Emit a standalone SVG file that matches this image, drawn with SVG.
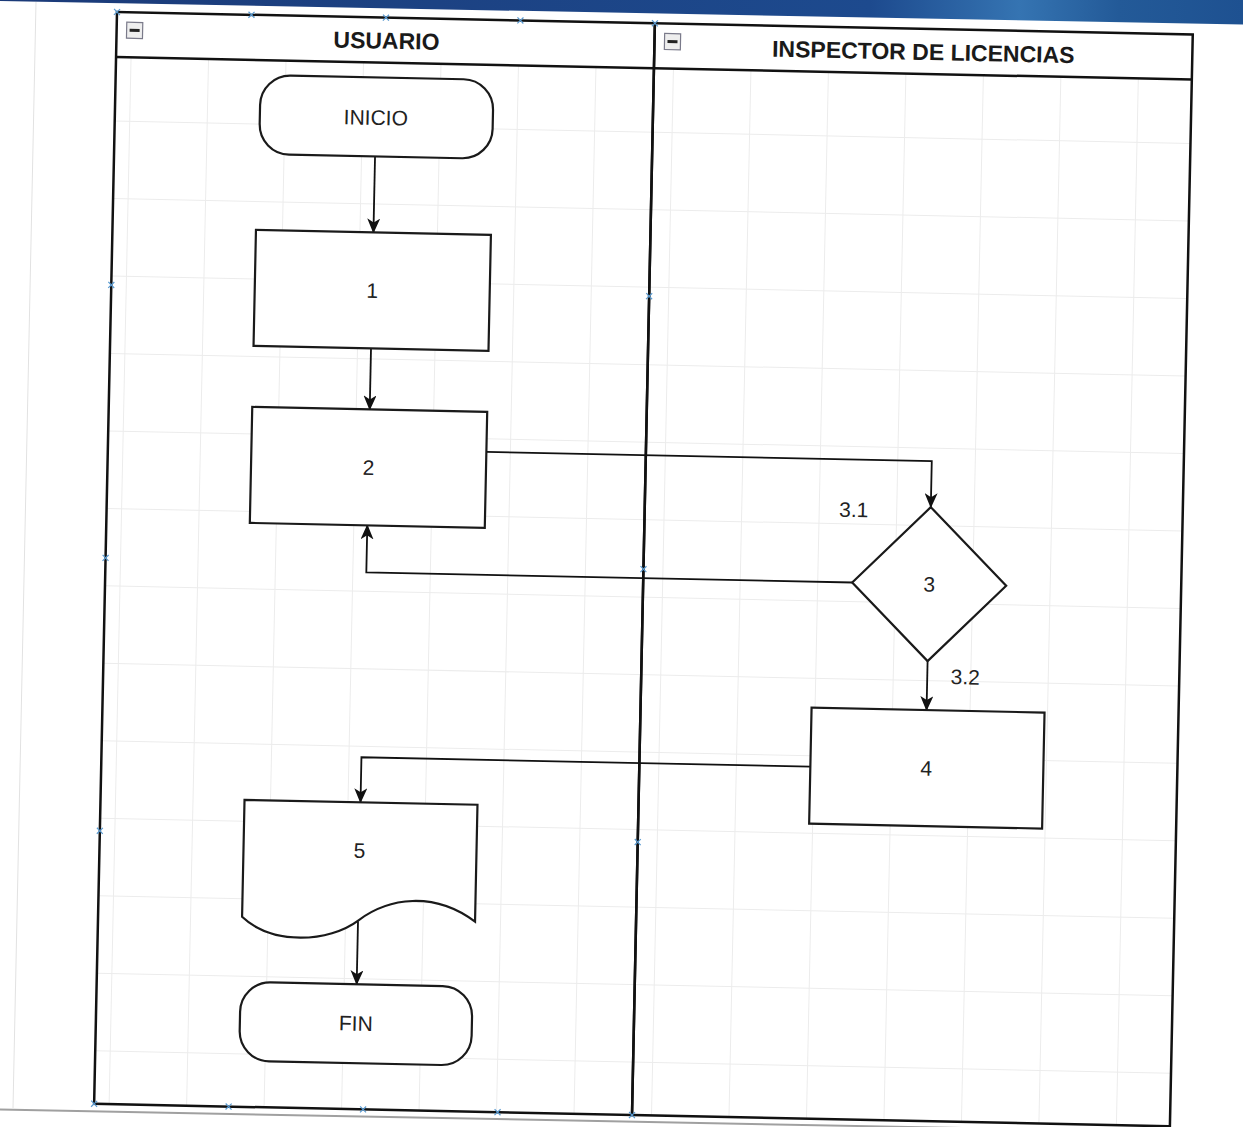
<svg xmlns="http://www.w3.org/2000/svg" width="1243" height="1127" viewBox="0 0 1243 1127">
  <defs>
    <linearGradient id="band" x1="0" y1="0" x2="1" y2="0">
      <stop offset="0" stop-color="#1b3a78"/>
      <stop offset="0.7" stop-color="#1d4a8e"/>
      <stop offset="0.82" stop-color="#3574b2"/>
      <stop offset="0.9" stop-color="#235a98"/>
      <stop offset="1" stop-color="#1e5191"/>
    </linearGradient>
    <marker id="arr" markerUnits="userSpaceOnUse" markerWidth="15" markerHeight="13" refX="14" refY="6.5" orient="auto">
      <path d="M0,0 L15,6.5 L0,13 L4,6.5 Z" fill="#111"/>
    </marker>
    <path id="cp" d="M-3,-3 L3,3 M-3,3 L3,-3"/>
  </defs>
  <style>
    .frame { fill: none; stroke: #111; stroke-width: 2.5; }
    .grid { stroke: #ececec; stroke-width: 1; }
    .node { fill: #ffffff; stroke: #1a1a1a; stroke-width: 2.2; }
    .conn { fill: none; stroke: #111; stroke-width: 1.8; marker-end: url(#arr); }
    .hdr { font-family: "Liberation Sans", Arial, sans-serif; font-weight: bold; font-size: 23px; fill: #1a1a1a; text-anchor: middle; dominant-baseline: central; }
    .lbl { font-family: "Liberation Sans", Arial, sans-serif; font-size: 21px; fill: #222; text-anchor: middle; dominant-baseline: central; }
    .icon { fill: #eeeeee; stroke: #7a7a8a; stroke-width: 1.2; }
    .minus { stroke: #222; stroke-width: 3; }
    .cpm { stroke: #5a9ad0; stroke-width: 1.2; fill: none; }
  </style>

  <rect x="0" y="0" width="1243" height="1127" fill="#ffffff"/>
  <polygon points="0,0 1243,0 1243,24.5 0,1" fill="url(#band)"/>
  <line x1="36" y1="2" x2="13" y2="1108" stroke="#e2e2e2" stroke-width="1"/>
  <line x1="0" y1="1109.5" x2="1243" y2="1133.4" stroke="#a0a0a0" stroke-width="2"/>

  <g transform="translate(117 12) rotate(1.2)">
    <g id="grid">
      <line class="grid" x1="15" y1="45" x2="15" y2="1092"/>
      <line class="grid" x1="92.5" y1="45" x2="92.5" y2="1092"/>
      <line class="grid" x1="170" y1="45" x2="170" y2="1092"/>
      <line class="grid" x1="247.5" y1="45" x2="247.5" y2="1092"/>
      <line class="grid" x1="325" y1="45" x2="325" y2="1092"/>
      <line class="grid" x1="402.5" y1="45" x2="402.5" y2="1092"/>
      <line class="grid" x1="480" y1="45" x2="480" y2="1092"/>
      <line class="grid" x1="557.5" y1="45" x2="557.5" y2="1092"/>
      <line class="grid" x1="635" y1="45" x2="635" y2="1092"/>
      <line class="grid" x1="712.5" y1="45" x2="712.5" y2="1092"/>
      <line class="grid" x1="790" y1="45" x2="790" y2="1092"/>
      <line class="grid" x1="867.5" y1="45" x2="867.5" y2="1092"/>
      <line class="grid" x1="945" y1="45" x2="945" y2="1092"/>
      <line class="grid" x1="1022.5" y1="45" x2="1022.5" y2="1092"/>
      <line class="grid" x1="0" y1="109" x2="1076" y2="109"/>
      <line class="grid" x1="0" y1="186.5" x2="1076" y2="186.5"/>
      <line class="grid" x1="0" y1="264" x2="1076" y2="264"/>
      <line class="grid" x1="0" y1="341.5" x2="1076" y2="341.5"/>
      <line class="grid" x1="0" y1="419" x2="1076" y2="419"/>
      <line class="grid" x1="0" y1="496.5" x2="1076" y2="496.5"/>
      <line class="grid" x1="0" y1="574" x2="1076" y2="574"/>
      <line class="grid" x1="0" y1="651.5" x2="1076" y2="651.5"/>
      <line class="grid" x1="0" y1="729" x2="1076" y2="729"/>
      <line class="grid" x1="0" y1="806.5" x2="1076" y2="806.5"/>
      <line class="grid" x1="0" y1="884" x2="1076" y2="884"/>
      <line class="grid" x1="0" y1="961.5" x2="1076" y2="961.5"/>
      <line class="grid" x1="0" y1="1039" x2="1076" y2="1039"/>
    </g>

    <g id="lane-usuario">
      <rect class="frame" x="0" y="0" width="538" height="1092"/>
      <line class="frame" x1="0" y1="45" x2="538" y2="45"/>
      <rect class="icon" x="10" y="10" width="16" height="16"/>
      <line class="minus" x1="13" y1="18" x2="23" y2="18"/>
      <text class="hdr" x="270" y="23">USUARIO</text>
    </g>

    <g id="lane-inspector">
      <rect class="frame" x="538" y="0" width="538" height="1092"/>
      <line class="frame" x1="538" y1="45" x2="1076" y2="45"/>
      <rect class="icon" x="548" y="10" width="16" height="16"/>
      <line class="minus" x1="551" y1="18" x2="561" y2="18"/>
      <text class="hdr" x="807" y="23">INSPECTOR DE LICENCIAS</text>
    </g>

    <g id="connection-points">
      <use href="#cp" class="cpm" x="0" y="0"/>
      <use href="#cp" class="cpm" x="134.5" y="0"/>
      <use href="#cp" class="cpm" x="269" y="0"/>
      <use href="#cp" class="cpm" x="403.5" y="0"/>
      <use href="#cp" class="cpm" x="538" y="0"/>
      <use href="#cp" class="cpm" x="0" y="1092"/>
      <use href="#cp" class="cpm" x="134.5" y="1092"/>
      <use href="#cp" class="cpm" x="269" y="1092"/>
      <use href="#cp" class="cpm" x="403.5" y="1092"/>
      <use href="#cp" class="cpm" x="538" y="1092"/>
      <use href="#cp" class="cpm" x="0" y="273"/>
      <use href="#cp" class="cpm" x="0" y="546"/>
      <use href="#cp" class="cpm" x="0" y="819"/>
      <use href="#cp" class="cpm" x="538" y="273"/>
      <use href="#cp" class="cpm" x="538" y="546"/>
      <use href="#cp" class="cpm" x="538" y="819"/>
    </g>

    <g id="connectors">
      <path class="conn" d="M261,139 V215"/>
      <path class="conn" d="M261,331 V392"/>
      <path class="conn" d="M378.5,432 H824 V478"/>
      <path class="conn" d="M747,555 H261 V508"/>
      <path class="conn" d="M824,632 V681"/>
      <path class="conn" d="M709,740 H260 V785"/>
      <path class="conn" d="M260,904 V967"/>
      <text class="lbl" x="747" y="482">3.1</text>
      <text class="lbl" x="862" y="647">3.2</text>
    </g>

    <g id="node-inicio">
      <rect class="node" x="145" y="60" width="233" height="79" rx="30" ry="30"/>
      <text class="lbl" x="261" y="100">INICIO</text>
    </g>
    <g id="node-1">
      <rect class="node" x="143.5" y="215" width="235" height="116"/>
      <text class="lbl" x="261" y="273">1</text>
    </g>
    <g id="node-2">
      <rect class="node" x="143.5" y="392" width="235" height="116"/>
      <text class="lbl" x="261" y="450">2</text>
    </g>
    <g id="node-3">
      <polygon class="node" points="824,478 901,555 824,632 747,555"/>
      <text class="lbl" x="824" y="555">3</text>
    </g>
    <g id="node-4">
      <rect class="node" x="709" y="681" width="233" height="116"/>
      <text class="lbl" x="825" y="739">4</text>
    </g>
    <g id="node-5">
      <path class="node" d="M144,785 H377 V902 C 335,872 290,880 260.5,903 S 175,930 144,902 Z"/>
      <text class="lbl" x="260" y="833">5</text>
    </g>
    <g id="node-fin">
      <rect class="node" x="144" y="967" width="232" height="79" rx="30" ry="30"/>
      <text class="lbl" x="260" y="1006">FIN</text>
    </g>
  </g>
</svg>
